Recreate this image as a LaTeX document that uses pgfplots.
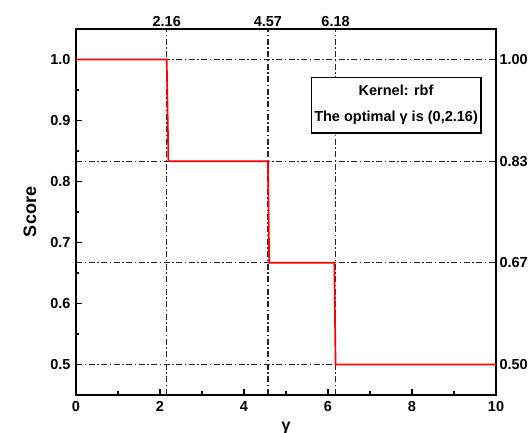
\documentclass[border=0pt]{standalone}
\usepackage{pgfplots}
\pgfplotsset{compat=1.18}
\usetikzlibrary{calc}
\usepackage{fontspec}
\setmainfont{Liberation Sans}
\begin{document}
\begin{tikzpicture}
\pgfplotsset{
  common/.style={
    scale only axis, width=420pt, height=366pt,
    xmin=0, xmax=10, ymin=0.45, ymax=1.05,
    /pgf/number format/assume math mode=true,
    tick label style={font=\fontsize{14.5}{16}\selectfont\bfseries},
  }
}
% grid / secondary axis (top and right)
\begin{axis}[common,
  axis x line*=top, axis y line*=right,
  axis line style={line width=1.4pt},
  xtick={2.16,4.57,6.18}, xticklabels={2.16,4.57,6.18},
  ytick={0.5,0.6667,0.8333,1.0}, yticklabels={0.50,0.67,0.83,1.00},
  major tick length=0pt,
  grid=major, grid style={dash pattern=on 6pt off 2.5pt on 1.5pt off 2.5pt, line width=1.2pt, black!85},
  xticklabel style={yshift=-1pt},
  yticklabel style={xshift=0pt},
]
\addplot[draw=none] coordinates {(0,0.5) (10,1)};
\end{axis}
% main axis
\begin{axis}[common, name=main,
  axis line style={line width=1.4pt},
  xtick={0,2,4,6,8,10},
  ytick={0.5,0.6,0.7,0.8,0.9,1.0},
  yticklabel style={xshift=-2pt, /pgf/number format/.cd, fixed, fixed zerofill, precision=1},
  xticklabel style={yshift=-3pt},
  xtick pos=bottom, ytick pos=left,
  tick align=inside,
  minor x tick num=1, minor y tick num=1,
  major tick length=6pt, minor tick length=3.5pt,
  every tick/.style={line width=1.2pt, black},
  xlabel={\bfseries γ}, ylabel={\bfseries Score},
  xlabel style={font=\fontsize{16}{18}\selectfont, at={(axis description cs:0.5,0)}, anchor=center, yshift=-33pt},
  ylabel style={font=\fontsize{18}{20}\selectfont, at={(axis description cs:0,0.5)}, anchor=center, yshift=46pt},
]
\addplot[red, line width=1.7pt] coordinates {(0,1) (2.16,1) (2.2,0.8333) (4.57,0.8333) (4.6,0.6667) (6.15,0.6667) (6.18,0.5) (10,0.5)};
\node[draw, line width=1.4pt, fill=white, align=center, inner xsep=3pt, inner ysep=8pt,
  font=\fontsize{14.5}{26}\selectfont\bfseries]
  at (axis cs:7.62,0.925) {Kernel: rbf\\The optimal γ is (0,2.16)};
\end{axis}
\pgfresetboundingbox
\path ($(main.south west)+(-76pt,-38pt)$) rectangle ($(main.north east)+(33pt,29pt)$);
\end{tikzpicture}
\end{document}
